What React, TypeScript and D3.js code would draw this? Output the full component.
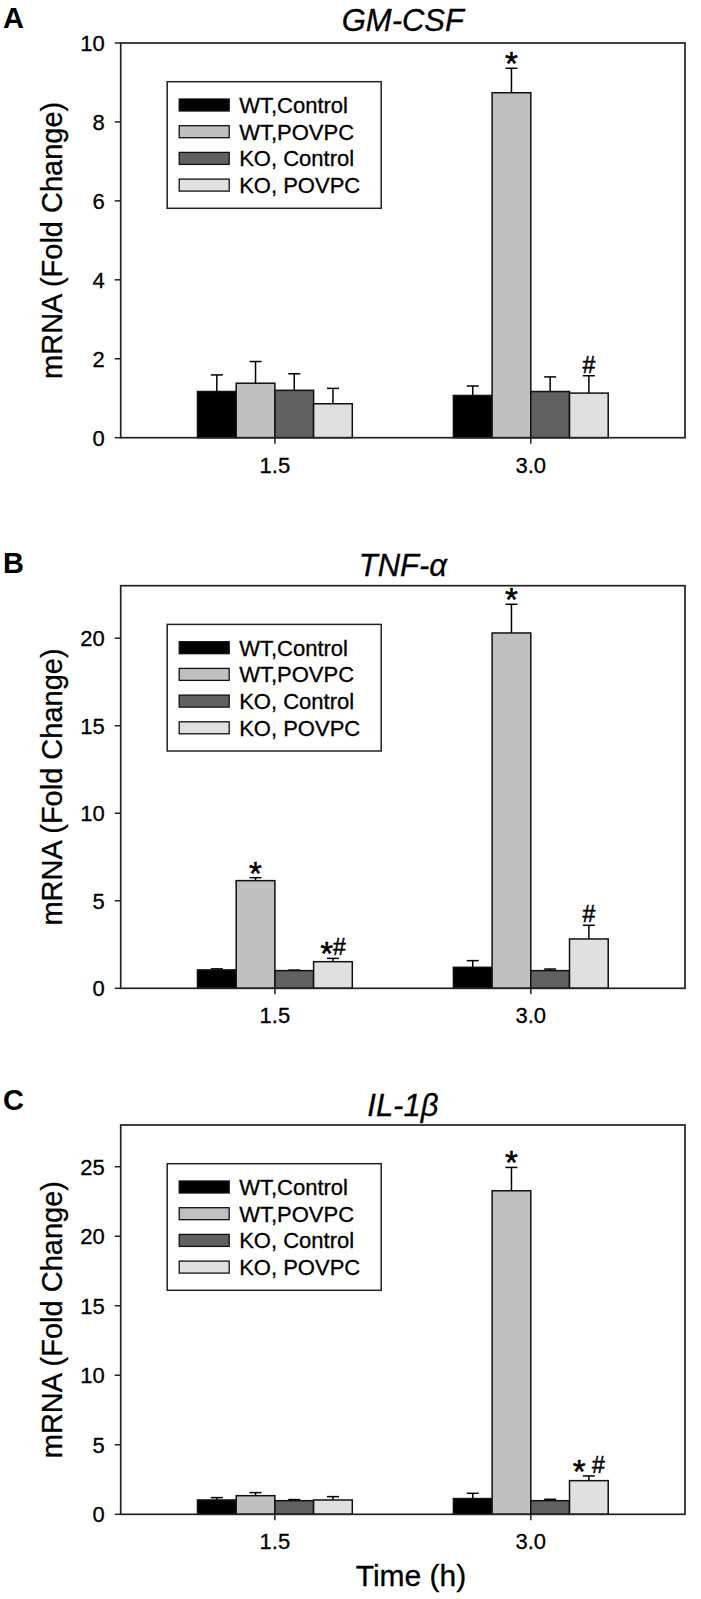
import React from "react";
import * as d3 from "d3";

// ---------- data ----------
const times = ["1.5", "3.0"];
const seriesNames = ["WT,Control", "WT,POVPC", "KO, Control", "KO, POVPC"];
const seriesColors = ["#000000", "#c0c0c0", "#616161", "#e0e0e0"];

// GM-CSF (rows = times, cols = series)
const gmcsfMean = [
  [1.17, 1.38, 1.2, 0.86],
  [1.07, 8.74, 1.17, 1.13],
];
const gmcsfErr = [
  [0.42, 0.55, 0.42, 0.39],
  [0.24, 0.62, 0.37, 0.44],
];
const gmcsfAnn = [
  ["", "", "", ""],
  ["", "*", "", "#"],
];
const gmcsfTicks = [0, 2, 4, 6, 8, 10];

// TNF-alpha
const tnfMean = [
  [1.05, 6.15, 1.01, 1.52],
  [1.2, 20.3, 1.01, 2.82],
];
const tnfErr = [
  [0.06, 0.17, 0.03, 0.19],
  [0.38, 1.64, 0.09, 0.78],
];
const tnfAnn = [
  ["", "*", "", "*#"],
  ["", "*", "", "#"],
];
const tnfTicks = [0, 5, 10, 15, 20];

// IL-1beta
const il1bMean = [
  [1.03, 1.34, 0.98, 1.03],
  [1.13, 23.27, 0.98, 2.42],
];
const il1bErr = [
  [0.17, 0.22, 0.08, 0.24],
  [0.38, 1.68, 0.1, 0.34],
];
const il1bAnn = [
  ["", "", "", ""],
  ["", "*", "", "* #"],
];
const il1bTicks = [0, 5, 10, 15, 20, 25];

const panels = [
  { letter: "A", title: "GM-CSF", mean: gmcsfMean, err: gmcsfErr, ann: gmcsfAnn, yMax: 10, ticks: gmcsfTicks },
  { letter: "B", title: "TNF-\u03b1", mean: tnfMean, err: tnfErr, ann: tnfAnn, yMax: 23, ticks: tnfTicks },
  { letter: "C", title: "IL-1\u03b2", mean: il1bMean, err: il1bErr, ann: il1bAnn, yMax: 28, ticks: il1bTicks },
];

// ---------- layout ----------
const W = 701;
const H = 1599;
const FONT = "'Liberation Sans', Arial, Helvetica, sans-serif";
const TS = { stroke: "#000", strokeWidth: 0.3 };
const plotLeft = 120.7;
const plotRight = 685;
const plotTops = [43, 585.7, 1125];
const plotBottoms = [437.7, 988.3, 1514.3];
const titleOffsets = [-12, -10, -9];
const letterOffsets = [-15.5, -12.5, -15];

function Annotation({ x, y, text }: { x: number; y: number; text: string }) {
  const parts = text.split("");
  const starShift = 10;
  let shifted = false;
  return (
    <text x={x} y={y} textAnchor="middle" fontFamily={FONT} fill="#000" stroke="#000" strokeWidth={0.5}>
      {parts.map((c, i) => {
        let dy = 0;
        if (c === "*" && !shifted) {
          dy = starShift;
          shifted = true;
        } else if (c !== "*" && shifted) {
          dy = -starShift;
          shifted = false;
        }
        return (
          <tspan key={i} dy={dy} fontSize={c === "*" ? 33 : 23}>
            {c === " " ? "\u00a0" : c}
          </tspan>
        );
      })}
    </text>
  );
}

function Panel({ p, idx }: { p: (typeof panels)[number]; idx: number }) {
  const top = plotTops[idx];
  const bottom = plotBottoms[idx];
  const x0 = d3.scaleBand<string>().domain(times).range([plotLeft, plotRight]).paddingInner(0.395).paddingOuter(0.3);
  const x1 = d3.scaleBand<string>().domain(seriesNames).range([0, x0.bandwidth()]).padding(0);
  const y = d3.scaleLinear().domain([0, p.yMax]).range([bottom, top]);
  const capHalf = 6;

  const legX = plotLeft + 46.5;
  const legY = top + 38.7;
  const legW = 214;
  const legH = 126.6;
  const rowH = 26.7;

  return (
    <g>
      {/* panel letter */}
      <text x={3} y={top + letterOffsets[idx]} fontFamily={FONT} fontWeight="bold" fontSize={29} fill="#000">
        {p.letter}
      </text>
      {/* title */}
      <text
        x={(plotLeft + plotRight) / 2}
        y={top + titleOffsets[idx]}
        textAnchor="middle"
        fontFamily={FONT}
        fontStyle="italic"
        fontSize={31}
        fill="#000"
        {...TS}
      >
        {p.title}
      </text>

      {/* bars */}
      {times.map((t, ti) =>
        seriesNames.map((s, si) => {
          const v = p.mean[ti][si];
          const e = p.err[ti][si];
          const bx = (x0(t) as number) + (x1(s) as number);
          const bw = x1.bandwidth();
          const cx = bx + bw / 2;
          const a = p.ann[ti][si];
          return (
            <g key={t + s}>
              <line x1={cx} x2={cx} y1={y(v)} y2={y(v + e)} stroke="#000" strokeWidth={1.5} />
              <line x1={cx - capHalf} x2={cx + capHalf} y1={y(v + e)} y2={y(v + e)} stroke="#000" strokeWidth={1.5} />
              <rect x={bx} y={y(v)} width={bw} height={y(0) - y(v)} fill={seriesColors[si]} stroke="#111" strokeWidth={1.5} />
              {a && <Annotation x={cx} y={y(v + e) - 3} text={a} />}
            </g>
          );
        })
      )}

      {/* frame */}
      <rect x={plotLeft} y={top} width={plotRight - plotLeft} height={bottom - top} fill="none" stroke="#222" strokeWidth={1.7} />

      {/* y ticks */}
      {p.ticks.map((tk) => (
        <g key={tk}>
          <line x1={plotLeft - 6} x2={plotLeft} y1={y(tk)} y2={y(tk)} stroke="#222" strokeWidth={1.5} />
          <text x={plotLeft - 16} y={y(tk) + 8} textAnchor="end" fontFamily={FONT} fontSize={22} fill="#000" {...TS}>
            {tk}
          </text>
        </g>
      ))}

      {/* x ticks */}
      {times.map((t) => {
        const cx = (x0(t) as number) + x0.bandwidth() / 2;
        return (
          <g key={t}>
            <line x1={cx} x2={cx} y1={bottom} y2={bottom + 6} stroke="#222" strokeWidth={1.5} />
            <text x={cx} y={bottom + 35} textAnchor="middle" fontFamily={FONT} fontSize={22} fill="#000" {...TS}>
              {t}
            </text>
          </g>
        );
      })}

      {/* y label */}
      <text
        transform={`translate(62,${(top + bottom) / 2}) rotate(-90)`}
        textAnchor="middle"
        fontFamily={FONT}
        fontSize={29}
        fill="#000"
        {...TS}
      >
        mRNA (Fold Change)
      </text>

      {/* legend */}
      <rect x={legX} y={legY} width={legW} height={legH} fill="#fff" stroke="#222" strokeWidth={1.5} />
      {seriesNames.map((s, si) => {
        const cy = legY + 23.3 + si * rowH;
        return (
          <g key={s}>
            <rect x={legX + 12} y={cy - 6} width={50} height={12} fill={seriesColors[si]} stroke="#111" strokeWidth={1.3} />
            <text x={legX + 72} y={cy + 8} fontFamily={FONT} fontSize={22} fill="#000" {...TS}>
              {s}
            </text>
          </g>
        );
      })}
    </g>
  );
}

export default function App() {
  const lastBottom = plotBottoms[plotBottoms.length - 1];
  return (
    <div style={{ position: "absolute", left: 0, top: 0, width: W, height: H, background: "#fff" }}>
      <svg width={W} height={H} viewBox={`0 0 ${W} ${H}`} style={{ display: "block" }}>
        <rect x={0} y={0} width={W} height={H} fill="#fff" />
        {panels.map((p, i) => (
          <Panel key={p.letter} p={p} idx={i} />
        ))}
        <text x={411} y={lastBottom + 72} textAnchor="middle" fontFamily={FONT} fontSize={30} fill="#000" {...TS}>
          Time (h)
        </text>
      </svg>
    </div>
  );
}
